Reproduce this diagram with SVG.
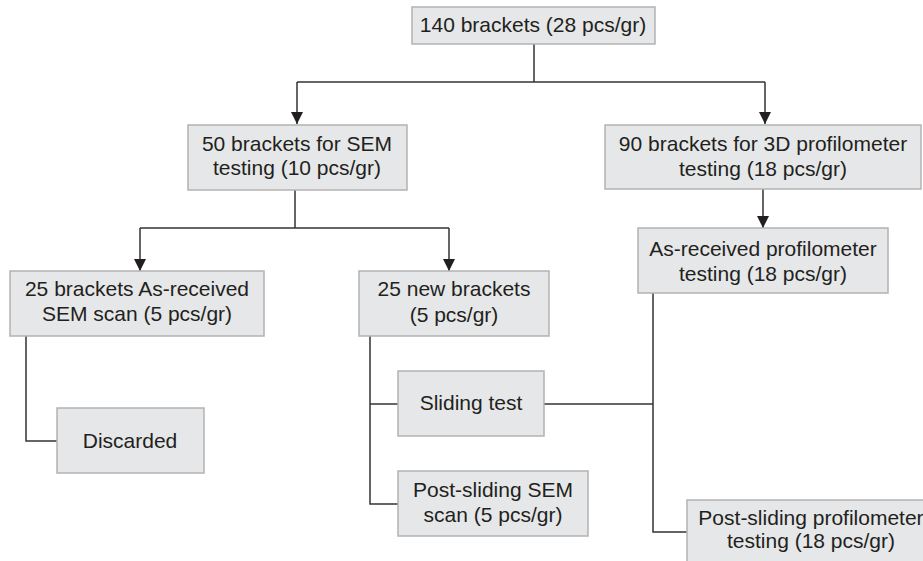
<svg xmlns="http://www.w3.org/2000/svg" width="923" height="561" viewBox="0 0 923 561">
<style>
.box{fill:#e6e7e8;stroke:#b3b3b3;stroke-width:1.5}
.t{font-family:"Liberation Sans",Arial,sans-serif;font-size:21px;fill:#231f20;text-anchor:middle}
.ln{fill:none;stroke:#333;stroke-width:1.5}
</style>
<defs>
<marker id="ah" viewBox="0 0 12 12" refX="12" refY="6" markerWidth="12" markerHeight="12" markerUnits="userSpaceOnUse" orient="auto">
<path d="M0,0 L12,6 L0,12 z" fill="#231f20"/>
</marker>
</defs>
<rect width="923" height="561" fill="#fff"/>
<g id="connectors">
<path class="ln" d="M534,44 V82"/>
<path class="ln" d="M297,82 H765"/>
<path class="ln" d="M297,82 V124" marker-end="url(#ah)"/>
<path class="ln" d="M765,82 V124" marker-end="url(#ah)"/>
<path class="ln" d="M295,190 V228"/>
<path class="ln" d="M140,228 H449"/>
<path class="ln" d="M140,228 V271" marker-end="url(#ah)"/>
<path class="ln" d="M449,228 V271" marker-end="url(#ah)"/>
<path class="ln" d="M763,189 V228" marker-end="url(#ah)"/>
<path class="ln" d="M26,336 V441 H57"/>
<path class="ln" d="M370,336 V504 H398"/>
<path class="ln" d="M370,404 H398"/>
<path class="ln" d="M544,404 H653"/>
<path class="ln" d="M653,293 V532 H687"/>
</g>
<g id="n140">
<rect class="box" x="412" y="7" width="243" height="37"/>
<text class="t" x="533" y="32">140 brackets (28 pcs/gr)</text>
</g>
<g id="nSEM50">
<rect class="box" x="188" y="125" width="219" height="65"/>
<text class="t" x="297" y="151">50 brackets for SEM</text>
<text class="t" x="297" y="175">testing (10 pcs/gr)</text>
</g>
<g id="n3D90">
<rect class="box" x="605" y="125" width="316" height="64"/>
<text class="t" x="763" y="151">90 brackets for 3D profilometer</text>
<text class="t" x="763" y="176">testing (18 pcs/gr)</text>
</g>
<g id="nAsProf">
<rect class="box" x="638" y="228" width="250" height="65"/>
<text class="t" x="763" y="256">As-received profilometer</text>
<text class="t" x="763" y="281">testing (18 pcs/gr)</text>
</g>
<g id="nAsSEM">
<rect class="box" x="10" y="271" width="254" height="65"/>
<text class="t" x="137" y="296">25 brackets As-received</text>
<text class="t" x="137" y="321">SEM scan (5 pcs/gr)</text>
</g>
<g id="nDiscarded">
<rect class="box" x="57" y="408" width="147" height="65"/>
<text class="t" x="130" y="448">Discarded</text>
</g>
<g id="nNew">
<rect class="box" x="359" y="271" width="190" height="65"/>
<text class="t" x="454" y="296">25 new brackets</text>
<text class="t" x="454" y="322">(5 pcs/gr)</text>
</g>
<g id="nSliding">
<rect class="box" x="398" y="371" width="146" height="65"/>
<text class="t" x="471" y="410">Sliding test</text>
</g>
<g id="nPostSEM">
<rect class="box" x="398" y="471" width="190" height="65"/>
<text class="t" x="493" y="497">Post-sliding SEM</text>
<text class="t" x="493" y="522">scan (5 pcs/gr)</text>
</g>
<g id="nPostProf">
<rect class="box" x="687" y="500" width="250" height="70"/>
<text class="t" x="811" y="525">Post-sliding profilometer</text>
<text class="t" x="811" y="548">testing (18 pcs/gr)</text>
</g>
</svg>
